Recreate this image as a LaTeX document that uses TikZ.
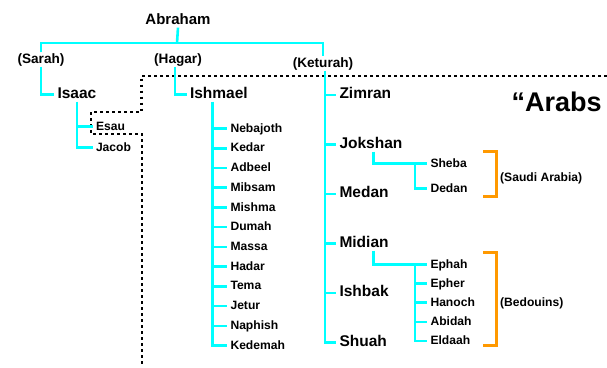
\documentclass[tikz,border=0pt]{standalone}
\usepackage{fontspec}
\setmainfont{Liberation Sans}
\usepackage{tikz}
\definecolor{kincyan}{RGB}{0,255,255}
\definecolor{tribeorange}{RGB}{255,153,0}

\tikzset{
    kin/.style={kincyan, line width=2.6bp},
    tribe/.style={tribeorange, line width=3bp},
    fence/.style={black, line width=2.7bp, dash pattern=on 2.7bp off 3.3bp},
    person/.style={text height=0.72em, text depth=0pt, yshift=-2.5bp},
    big/.style={person, font=\fontsize{15.5bp}{18bp}\selectfont\bfseries, anchor=west},
    small/.style={person, font=\fontsize{12.1bp}{14bp}\selectfont\bfseries, anchor=west},
    wife/.style={person, font=\fontsize{13.6bp}{16bp}\selectfont\bfseries}
}

\begin{document}
\begin{tikzpicture}[x=1bp, y=-1bp]
        \useasboundingbox (0,0) rectangle (607,367);

        \draw[fence] (607,76) -| (141.7,112) -| (91,134) -| (142,367);

        \node[person, font=\fontsize{15bp}{18bp}\selectfont\bfseries] (abraham) at (178,18) {Abraham};
        \node[wife] (sarah) at (41,57) {(Sarah)};
        \node[wife] (hagar) at (178,57) {(Hagar)};
        \node[wife] (keturah) at (323,61) {(Keturah)};

        \coordinate (fork) at (177,43);
        \draw[kin] (abraham.south) -- (fork);
        \draw[kin] (sarah.north) |- (fork) -| (keturah.north);

        % Sarah
        \node[big] (isaac) at (54,92) {Isaac};
        \draw[kin] (sarah.south) |- (isaac.west);
        \node[small] (esau) at (92.5,124) {Esau};
        \node[small] (jacob) at (92.5,145) {Jacob};
        \draw[kin] (isaac.south) |- (jacob.west);
        \draw[kin] (esau.west -| isaac.south) -- (esau.west);

        % Hagar
        \node[big] (ishmael) at (186.5,92) {Ishmael};
        \draw[kin] ([xshift=-3bp]hagar.south) |- (ishmael.west);
        \foreach \n [count=\i] in {Nebajoth,Kedar,Adbeel,Mibsam,Mishma,Dumah,Massa,Hadar,Tema,Jetur,Naphish,Kedemah}
            \node[small] (is\i) at (227,{106.27+19.73*\i}) {\n};
        \draw[kin] ([xshift=-6.5bp]ishmael.south) coordinate (iline) |- (is12.west);
        \foreach \i in {1,...,11}
            \draw[kin] (is\i.west -| iline) -- (is\i.west);

        % Keturah
        \foreach \n [count=\i] in {Zimran,Jokshan,Medan,Midian,Ishbak,Shuah}
            \node[big] (k\i) at (336,{43+49.5*\i}) {\n};
        \draw[kin] ([xshift=2bp]keturah.south) coordinate (kline) |- (k6.west);
        \foreach \i in {1,...,5}
            \draw[kin] (k\i.west -| kline) -- (k\i.west);

        \node[small] (sheba) at (427,161) {Sheba};
        \node[small] (dedan) at (427,186) {Dedan};
        \draw[kin] ([xshift=2.4bp]k2.south) |- (sheba.west);
        \draw[kin] ([xshift=-12bp]sheba.west) |- (dedan.west);

        \foreach \n [count=\i] in {Ephah,Epher,Hanoch,Abidah,Eldaah}
            \node[small] (m\i) at (427,{242.9+19.1*\i}) {\n};
        \draw[kin] ([xshift=9.3bp]k4.south) |- (m1.west);
        \draw[kin] ([xshift=-12bp]m1.west) coordinate (mline) |- (m5.west);
        \foreach \i in {2,...,4}
            \draw[kin] (m\i.west -| mline) -- (m\i.west);

        % peoples
        \draw[tribe] (483,151) -| (496,196) -- (483,196);
        \node[small, inner sep=3bp] (saudi) at (497,175.5) {(Saudi Arabia)};
        \draw[tribe] (483,252) -| (496,345) -- (483,345);
        \node[small, inner sep=3bp] (bedouins) at (497,300) {(Bedouins)};

        \node[person, font=\fontsize{27bp}{30bp}\selectfont\bfseries, anchor=west, inner sep=0pt] (arabs) at (511.5,105) {“Arabs};
\end{tikzpicture}
\end{document}
